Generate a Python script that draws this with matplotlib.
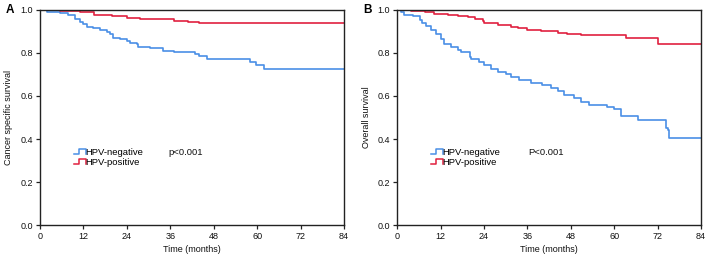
import matplotlib
matplotlib.use("Agg")
import matplotlib.pyplot as plt
import numpy as np
from matplotlib.legend_handler import HandlerBase
from matplotlib.lines import Line2D

plt.rcParams["font.family"] = ["Liberation Sans", "DejaVu Sans"]

# panel A: cancer specific survival (step times in months, survival after step)
a_neg_t = [0, 1.8, 5.5, 7.8, 9.7, 11, 12, 12.9, 14.7, 16.6, 18.4, 19.3, 20.2, 22, 24, 24.8,
           26.7, 27, 30.4, 34, 37, 42.8, 44, 46, 48.8, 58, 59.8, 62, 84]
a_neg_s = [1.0, 0.99, 0.985, 0.975, 0.96, 0.945, 0.937, 0.92, 0.914, 0.906, 0.897, 0.89, 0.87,
           0.864, 0.856, 0.847, 0.84, 0.83, 0.823, 0.81, 0.805, 0.794, 0.788, 0.773, 0.77,
           0.756, 0.742, 0.727, 0.727]
a_pos_t = [0, 5.5, 11, 15, 20, 24, 27.6, 31, 37, 41, 44, 84]
a_pos_s = [1.0, 0.995, 0.99, 0.978, 0.973, 0.964, 0.96, 0.956, 0.95, 0.944, 0.939, 0.939]

# panel B: overall survival
b_neg_t = [0, 1.1, 2, 4.3, 6.2, 7, 8, 9.4, 10.8, 12, 13, 14.9, 16.8, 17.7, 20, 20.4, 22.7, 24,
           26, 27.8, 30, 31.5, 33.8, 37, 40, 42.5, 44.4, 46.2, 49, 50.8, 53, 58, 60, 62, 66.5,
           74.3, 74.8, 75.2, 84]
b_neg_s = [1.0, 0.992, 0.977, 0.97, 0.953, 0.94, 0.925, 0.906, 0.89, 0.867, 0.844, 0.83, 0.816,
           0.805, 0.78, 0.77, 0.76, 0.742, 0.727, 0.712, 0.7, 0.687, 0.675, 0.66, 0.65, 0.637,
           0.625, 0.605, 0.59, 0.57, 0.56, 0.55, 0.54, 0.508, 0.49, 0.453, 0.44, 0.405, 0.405]
b_pos_t = [0, 3.9, 7.6, 10.3, 14, 16.8, 19.5, 21.4, 23.7, 24, 27.8, 31.5, 33.3, 36, 39.8, 44.4,
           47, 50.8, 63.3, 72, 84]
b_pos_s = [1.0, 0.997, 0.99, 0.98, 0.977, 0.97, 0.966, 0.958, 0.948, 0.94, 0.931, 0.922, 0.916,
           0.906, 0.9, 0.894, 0.888, 0.884, 0.87, 0.844, 0.844]

xticks = [0, 12, 24, 36, 48, 60, 72, 84]
yticks = [0.0, 0.2, 0.4, 0.6, 0.8, 1.0]

blue = "#4a8fe6"
red = "#e0203f"
fs = 6.5


class StepHandler(HandlerBase):
    def create_artists(self, legend, orig_handle, xdescent, ydescent, width, height,
                       fontsize, trans):
        x0 = -xdescent
        y0 = -ydescent
        xs = [x0, x0 + 0.45 * width, x0 + 0.45 * width, x0 + width, x0 + width]
        ys = [y0 + 0.15 * height, y0 + 0.15 * height, y0 + 0.85 * height,
              y0 + 0.85 * height, y0 + 0.15 * height]
        line = Line2D(xs, ys, color=orig_handle.get_color(), lw=1.1)
        line.set_transform(trans)
        return [line]


fig = plt.figure(figsize=(7.08, 2.62), dpi=100)
axA = fig.add_axes([0.0565, 0.141, 0.4295, 0.821])
axB = fig.add_axes([0.561, 0.141, 0.429, 0.821])

panels = [
    (axA, a_neg_t, a_neg_s, a_pos_t, a_pos_s, "Cancer specific survival", "p<0.001", "A", 35.4),
    (axB, b_neg_t, b_neg_s, b_pos_t, b_pos_s, "Overall survival", "P<0.001", "B", 36.2),
]

for ax, nt, ns, pt, ps, ylab, ptxt, letter, px in panels:
    h1, = ax.step(nt, ns, where="post", color=blue, lw=1.2)
    h2, = ax.step(pt, ps, where="post", color=red, lw=1.2)
    ax.set_xlim(0, 84)
    ax.set_ylim(0, 1.0)
    ax.set_xticks(xticks)
    ax.set_yticks(yticks)
    ax.set_yticklabels([f"{v:.1f}" for v in yticks])
    ax.tick_params(labelsize=fs, length=3, width=0.9, direction="out", pad=2,
                   color="#222222", labelcolor="#111111")
    for sp in ax.spines.values():
        sp.set_linewidth(1.0)
        sp.set_color("#222222")
    ax.set_xlabel("Time (months)", fontsize=fs, labelpad=3, color="#111111")
    ax.set_ylabel(ylab, fontsize=fs, labelpad=5, color="#111111")
    leg = ax.legend([h1, h2], ["HPV-negative", "HPV-positive"], fontsize=fs + 0.3,
                    frameon=False, loc="center left", bbox_to_anchor=(0.1, 0.315),
                    handlelength=1.2, handletextpad=0.0, labelspacing=0.1,
                    borderaxespad=0, handler_map={Line2D: StepHandler()})
    ax.text(px, 0.336, ptxt, fontsize=fs + 0.3, va="center", ha="left", color="#111111")
    ax.text(-0.085, 1.0, letter, transform=ax.transAxes, fontsize=8.5,
            fontweight="bold", va="center", ha="right")

fig.savefig("out.png", dpi=100)
